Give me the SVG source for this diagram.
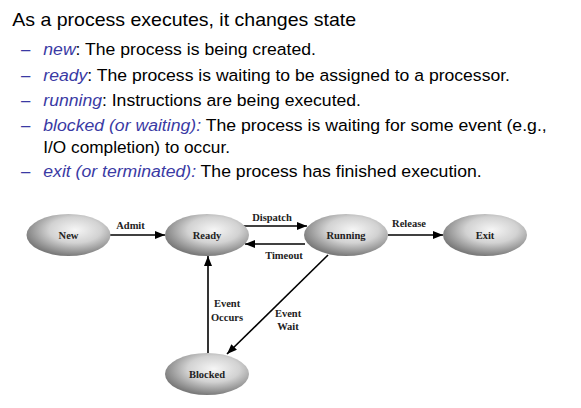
<svg xmlns="http://www.w3.org/2000/svg" width="581" height="408" viewBox="0 0 581 408">
<style>
.title{font-family:"Liberation Sans",Arial,sans-serif;font-size:18.5px;fill:#000}
.b{font-family:"Liberation Sans",Arial,sans-serif;font-size:16.8px;fill:#000}
.it{font-style:italic;fill:#3a3aa4}
.dash{font-family:"Liberation Sans",Arial,sans-serif;font-size:16.8px;fill:#3a3aa4}
.node{fill:url(#g);stroke:none}
.nl{font-family:"Liberation Serif","Times New Roman",serif;font-weight:bold;font-size:10.5px;fill:#222;text-anchor:middle}
.el{font-family:"Liberation Serif","Times New Roman",serif;font-weight:bold;font-size:10.5px;fill:#222;text-anchor:middle}
.c{stroke:#000;stroke-width:1.6;fill:none;marker-end:url(#ah)}
</style>
<defs>
<radialGradient id="g" cx="0.58" cy="0.38" r="0.62" fx="0.58" fy="0.38">
<stop offset="0" stop-color="#f6f6f6"/>
<stop offset="0.5" stop-color="#d2d2d2"/>
<stop offset="1" stop-color="#7a7a7a"/>
</radialGradient>
<marker id="ah" viewBox="0 0 10 8" refX="10" refY="4" markerWidth="10" markerHeight="8" markerUnits="userSpaceOnUse" orient="auto">
<path d="M0,0 L10,4 L0,8 Z" fill="#000"/>
</marker>
</defs>
<rect width="581" height="408" fill="#fff"/>
<text class="title" x="12.3" y="26" textLength="343.7" lengthAdjust="spacingAndGlyphs">As a process executes, it changes state</text>
<g>
<text class="dash" x="21" y="55">–</text>
<text class="b" x="43.3" y="55" textLength="272.7" lengthAdjust="spacingAndGlyphs"><tspan class="it">new</tspan>: The process is being created.</text>
<text class="dash" x="21" y="81">–</text>
<text class="b" x="43.3" y="81" textLength="466.7" lengthAdjust="spacingAndGlyphs"><tspan class="it">ready</tspan>: The process is waiting to be assigned to a processor.</text>
<text class="dash" x="21" y="106">–</text>
<text class="b" x="43.3" y="106" textLength="317.7" lengthAdjust="spacingAndGlyphs"><tspan class="it">running</tspan>: Instructions are being executed.</text>
<text class="dash" x="21" y="131">–</text>
<text class="b" x="43.3" y="131" textLength="503.4" lengthAdjust="spacingAndGlyphs"><tspan class="it">blocked (or waiting):</tspan> The process is waiting for some event (e.g.,</text>
<text class="b" x="43.3" y="153" textLength="186.7" lengthAdjust="spacingAndGlyphs">I/O completion) to occur.</text>
<text class="dash" x="21" y="177">–</text>
<text class="b" x="43.3" y="177" textLength="438.4" lengthAdjust="spacingAndGlyphs"><tspan class="it">exit (or terminated):</tspan> The process has finished execution.</text>
</g>
<g id="connectors">
<line class="c" x1="110" y1="235" x2="165" y2="235"/>
<line class="c" x1="243" y1="226" x2="307" y2="226"/>
<line class="c" x1="305" y1="244" x2="245" y2="244"/>
<line class="c" x1="388" y1="235" x2="443" y2="235"/>
<line class="c" x1="208" y1="353" x2="208" y2="256"/>
<line class="c" x1="328" y1="255" x2="227" y2="354"/>
<text class="el" x="130.5" y="229">Admit</text>
<text class="el" x="272" y="221">Dispatch</text>
<text class="el" x="284" y="259">Timeout</text>
<text class="el" x="409" y="227">Release</text>
<text class="el" x="227" y="307">Event</text>
<text class="el" x="227" y="321">Occurs</text>
<text class="el" x="288" y="317">Event</text>
<text class="el" x="288" y="330">Wait</text>
</g>
<g id="new"><ellipse class="node" cx="68.5" cy="235" rx="42" ry="21"/><text class="nl" x="68.5" y="239">New</text></g>
<g id="ready"><ellipse class="node" cx="207" cy="235" rx="42" ry="21"/><text class="nl" x="207" y="239">Ready</text></g>
<g id="running"><ellipse class="node" cx="346" cy="235" rx="42" ry="21"/><text class="nl" x="346" y="239">Running</text></g>
<g id="exit"><ellipse class="node" cx="485" cy="235" rx="42" ry="21"/><text class="nl" x="485" y="239">Exit</text></g>
<g id="blocked"><ellipse class="node" cx="207" cy="374" rx="42" ry="21"/><text class="nl" x="207" y="378">Blocked</text></g>
</svg>
